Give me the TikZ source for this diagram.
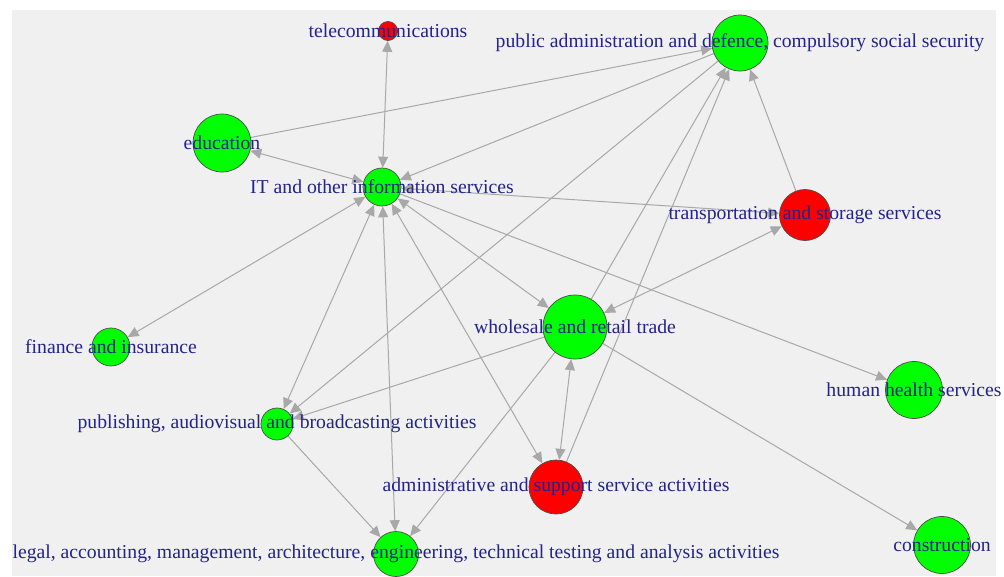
\documentclass[tikz,border=0pt]{standalone}
\usepackage{fontspec}
\setmainfont{Liberation Serif}
\usetikzlibrary{arrows.meta}
\pgfdeclarelayer{bglayer}
\pgfdeclarelayer{edgelayer}
\pgfsetlayers{bglayer,edgelayer,main}
\definecolor{bgc}{RGB}{240,240,240}
\definecolor{edgec}{RGB}{168,168,168}
\definecolor{lblc}{RGB}{35,35,140}
\definecolor{vgreen}{RGB}{0,255,0}
\definecolor{vred}{RGB}{255,0,0}
\tikzset{
  vtx/.style={circle, draw=black!70, line width=0.7pt, inner sep=0pt, fill=#1},
  lbl/.style={text=lblc, font=\fontsize{19.7}{20}\selectfont, inner sep=0pt},
  edge/.style={draw=edgec, line width=1pt},
  one/.style={edge, -{Triangle[length=11pt,width=10pt]}},
  two/.style={edge, {Triangle[length=11pt,width=10pt]}-{Triangle[length=11pt,width=10pt]}}
}
\begin{document}
\begin{tikzpicture}[x=1pt,y=-1pt]
\useasboundingbox (0,0) rectangle (1004,576);
\begin{pgfonlayer}{bglayer}
\fill[white] (0,0) rectangle (1004,576);
\fill[bgc] (12,10) rectangle (996,576);
\end{pgfonlayer}
% vertices
\node[vtx=vred,   minimum size=19pt] (tel)   at (388,31)  {};
\node[vtx=vgreen, minimum size=56pt] (pa)    at (740,43)  {};
\node[vtx=vgreen, minimum size=58pt] (edu)   at (222,143) {};
\node[vtx=vgreen, minimum size=38pt] (it)    at (382,187) {};
\node[vtx=vred,   minimum size=51pt] (trans) at (805,215) {};
\node[vtx=vgreen, minimum size=64pt] (whole) at (575,327) {};
\node[vtx=vgreen, minimum size=38pt] (fin)   at (111,347) {};
\node[vtx=vgreen, minimum size=57pt] (health) at (914,390) {};
\node[vtx=vgreen, minimum size=32pt] (pub)   at (277,424) {};
\node[vtx=vred,   minimum size=54pt] (adm)   at (556,487) {};
\node[vtx=vgreen, minimum size=45pt] (legal) at (396,554) {};
\node[vtx=vgreen, minimum size=57pt] (cons)  at (942,545) {};
% edges
\begin{pgfonlayer}{edgelayer}
\draw[two] (tel) -- (it);
\draw[two] (edu) -- (it);
\draw[two] (fin) -- (it);
\draw[two] (pub) -- (it);
\draw[two] (legal) -- (it);
\draw[two] (adm) -- (it);
\draw[two] (whole) -- (it);
\draw[two] (trans) -- (it);
\draw[two] (whole) -- (trans);
\draw[two] (whole) -- (adm);
\draw[one] (edu) -- (pa);
\draw[one] (pa) -- (it);
\draw[one] (pa) -- (pub);
\draw[one] (whole) -- (pa);
\draw[one] (adm) -- (pa);
\draw[one] (trans) -- (pa);
\draw[one] (it) -- (health);
\draw[one] (whole) -- (pub);
\draw[one] (whole) -- (legal);
\draw[one] (whole) -- (cons);
\draw[one] (pub) -- (legal);
\end{pgfonlayer}
% labels
\node[lbl] (tel-l)    at (tel)    {telecommunications};
\node[lbl] (pa-l)     at (pa)     {public administration and defence, compulsory social security};
\node[lbl] (edu-l)    at (edu)    {education};
\node[lbl] (it-l)     at (it)     {IT and other information services};
\node[lbl] (trans-l)  at (trans)  {transportation and storage services};
\node[lbl] (whole-l)  at (whole)  {wholesale and retail trade};
\node[lbl] (fin-l)    at (fin)    {finance and insurance};
\node[lbl] (health-l) at (health) {human health services};
\node[lbl] (pub-l)    at (pub)    {publishing, audiovisual and broadcasting activities};
\node[lbl] (adm-l)    at (adm)    {administrative and support service activities};
\node[lbl] (legal-l)  at (legal)  {legal, accounting, management, architecture, engineering, technical testing and analysis activities};
\node[lbl] (cons-l)   at (cons)   {construction};
\end{tikzpicture}
\end{document}
